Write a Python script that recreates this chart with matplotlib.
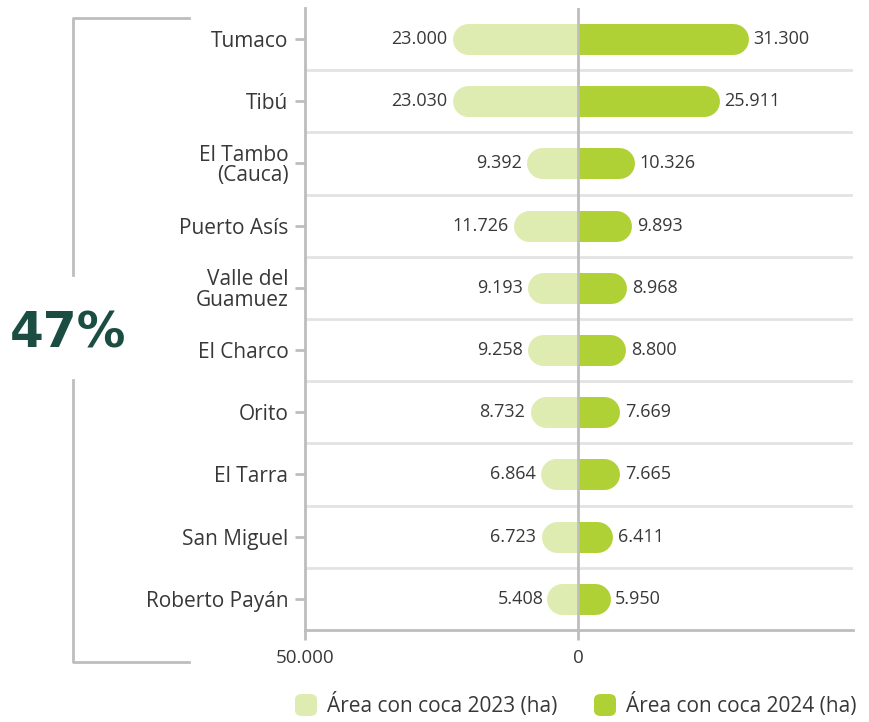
import matplotlib
matplotlib.use("Agg")
import matplotlib.pyplot as plt
from matplotlib.lines import Line2D
from matplotlib.patches import FancyBboxPatch

municipios = ["Tumaco", "Tibú", "El Tambo\n(Cauca)", "Puerto Asís", "Valle del\nGuamuez",
              "El Charco", "Orito", "El Tarra", "San Miguel", "Roberto Payán"]
coca_2023 = [23000, 23030, 9392, 11726, 9193, 9258, 8732, 6864, 6723, 5408]
coca_2024 = [31300, 25911, 10326, 9893, 8968, 8800, 7669, 7665, 6411, 5950]
etiquetas_2023 = ["23.000", "23.030", "9.392", "11.726", "9.193", "9.258", "8.732", "6.864", "6.723", "5.408"]
etiquetas_2024 = ["31.300", "25.911", "10.326", "9.893", "8.968", "8.800", "7.669", "7.665", "6.411", "5.950"]

color_2023 = "#DEEBB1"
color_2024 = "#B0D135"
color_texto = "#383838"
color_eje = "#BDBDBD"
color_grid = "#E3E3E3"

plt.rcParams["font.family"] = ["Open Sans", "DejaVu Sans"]

W, H = 870, 722
fig = plt.figure(figsize=(W / 100, H / 100), dpi=100)
ax = fig.add_axes([305 / W, 1 - 630 / H, (853 - 305) / W, (630 - 8) / H])

xmin, xmax = -50000, 50400
ax.set_xlim(xmin, xmax)
n = len(municipios)
ax.set_ylim(n - 0.5, -0.5)

bar_px = 31
lw = bar_px * 72 / 100
px_per_unit = (853 - 305) / (xmax - xmin)
r = (bar_px / 2) / px_per_unit

for i in range(n):
    for val, col, sign in [(coca_2023[i], color_2023, -1), (coca_2024[i], color_2024, 1)]:
        end = sign * (val - r)
        ax.plot([0, end], [i, i], color=col, lw=lw, solid_capstyle="butt", zorder=2)
        ax.plot([sign * r, end], [i, i], color=col, lw=lw, solid_capstyle="round", zorder=2)
    ax.text(-coca_2023[i] - 900, i, etiquetas_2023[i], ha="right", va="center",
            fontsize=13, color=color_texto)
    ax.text(coca_2024[i] + 900, i, etiquetas_2024[i], ha="left", va="center",
            fontsize=13, color=color_texto)

# lineas entre filas
for i in range(n - 1):
    ax.axhline(i + 0.5, color=color_grid, lw=2, zorder=1)
ax.axvline(0, color=color_eje, lw=2, zorder=3)

ax.set_yticks(range(n))
ax.set_yticklabels(municipios, fontsize=15, color=color_texto, linespacing=0.95)
ax.set_xticks([xmin, 0])
ax.set_xticklabels(["50.000", "0"], fontsize=13.5, color=color_texto)
ax.tick_params(axis="y", length=7, width=2, color=color_eje, pad=5)
ax.tick_params(axis="x", length=7, width=2, color=color_eje, pad=7)
for s in ["top", "right"]:
    ax.spines[s].set_visible(False)
for s in ["left", "bottom"]:
    ax.spines[s].set_color(color_eje)
    ax.spines[s].set_linewidth(2)

# corchete y porcentaje
def fx(x):
    return x / W

def fy(y):
    return 1 - y / H

bracket = dict(color=color_eje, lw=2, transform=fig.transFigure)
fig.add_artist(Line2D([fx(189), fx(73), fx(73)], [fy(18), fy(18), fy(275)], **bracket))
fig.add_artist(Line2D([fx(73), fx(73), fx(189)], [fy(380), fy(662), fy(662)], **bracket))
fig.text(fx(68), fy(334), "47%", ha="center", va="center", fontsize=35,
         fontweight="bold", color="#1B4D43", family="DejaVu Sans")

# leyenda
for x0, lab, col in [(295, "Área con coca 2023 (ha)", color_2023),
                     (594, "Área con coca 2024 (ha)", color_2024)]:
    fig.add_artist(FancyBboxPatch((fx(x0), fy(716)), fx(22), 22 / H,
                                  boxstyle="round,pad=0,rounding_size=0.008",
                                  transform=fig.transFigure, fc=col, ec="none"))
    fig.text(fx(x0 + 32), fy(705), lab, ha="left", va="center", fontsize=15, color=color_texto)

fig.savefig("out.png", dpi=100)
